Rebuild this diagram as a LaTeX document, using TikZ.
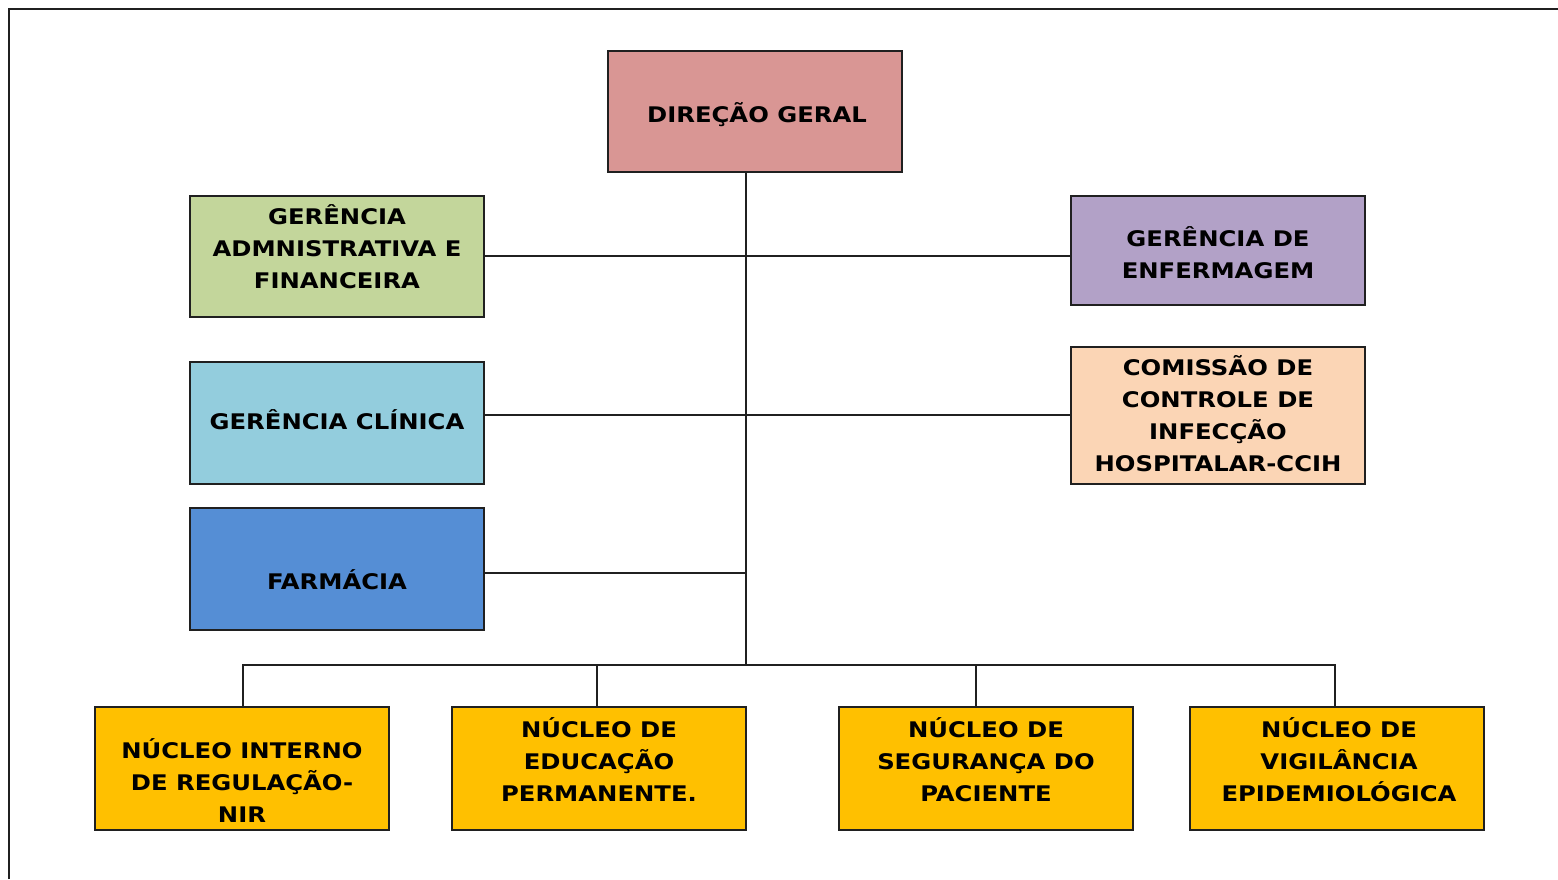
\documentclass[tikz,border=0pt]{standalone}
\usepackage{fontspec}
\setmainfont{DejaVu Sans}[BoldFeatures={FakeStretch=1.13}]
\definecolor{cDir}{HTML}{D99694}
\definecolor{cAdm}{HTML}{C3D69B}
\definecolor{cEnf}{HTML}{B2A1C7}
\definecolor{cCli}{HTML}{93CDDD}
\definecolor{cCci}{HTML}{FBD5B5}
\definecolor{cFar}{HTML}{558ED5}
\definecolor{cNuc}{HTML}{FFC000}
\definecolor{cLine}{HTML}{202020}
\begin{document}
\begin{tikzpicture}[x=1pt,y=-1pt,
  box/.style={draw=cLine,line width=1.4pt,inner sep=0pt,outer sep=0pt,minimum width=294pt},
  txt/.style={align=center,inner sep=0pt,font=\fontsize{21.5}{32}\selectfont\bfseries,text=black},
  conn/.style={draw=cLine,line width=1.5pt}]
\useasboundingbox (0,0) rectangle (1558,879);
\fill[white] (0,0) rectangle (1558,879);
\draw[line width=1.3pt,cLine] (9,879) -- (9,9) -- (1558,9);
% boxes
\node[box,fill=cDir,minimum height=121pt] (dg) at (755,111.5) {};
\node[box,fill=cAdm,minimum height=121pt] (adm) at (337,256.5) {};
\node[box,fill=cEnf,minimum height=109pt] (enf) at (1218,250.5) {};
\node[box,fill=cCli,minimum height=122pt] (cli) at (337,423) {};
\node[box,fill=cCci,minimum height=137pt] (cci) at (1218,415.5) {};
\node[box,fill=cFar,minimum height=122pt] (far) at (337,569) {};
\node[box,fill=cNuc,minimum height=123pt] (n1) at (242,768.5) {};
\node[box,fill=cNuc,minimum height=123pt] (n2) at (599,768.5) {};
\node[box,fill=cNuc,minimum height=123pt] (n3) at (986,768.5) {};
\node[box,fill=cNuc,minimum height=123pt] (n4) at (1337,768.5) {};
% texts
\node[txt] (dgt) at (757,115) {DIREÇÃO GERAL};
\node[txt] (admt) at (337,247) {GERÊNCIA\\ADMNISTRATIVA E\\FINANCEIRA};
\node[txt] (enft) at (1218,253) {GERÊNCIA DE\\ENFERMAGEM};
\node[txt] (clit) at (337,420) {GERÊNCIA CLÍNICA};
\node[txt] (ccit) at (1218,414) {COMISSÃO DE\\CONTROLE DE\\INFECÇÃO\\HOSPITALAR-CCIH};
\node[txt] (fart) at (337,580) {FARMÁCIA};
\node[txt] (n1t) at (242,781) {NÚCLEO INTERNO\\DE REGULAÇÃO-\\NIR};
\node[txt] (n2t) at (599,760) {NÚCLEO DE\\EDUCAÇÃO\\PERMANENTE.};
\node[txt] (n3t) at (986,760) {NÚCLEO DE\\SEGURANÇA DO\\PACIENTE};
\node[txt] (n4t) at (1339,760) {NÚCLEO DE\\VIGILÂNCIA\\EPIDEMIOLÓGICA};
% connectors
\coordinate (bus) at (746,665);
\coordinate (d3) at (976,665);
\coordinate (d4) at (1335,665);
\coordinate (d2) at (597,665);
\coordinate (d1) at (243,665);
\draw[conn] (dg.south -| bus) -- (bus);
\draw[conn] (adm.east |- 0,256) -- (enf.west |- 0,256);
\draw[conn] (cli.east |- 0,415) -- (cci.west |- 0,415);
\draw[conn] (far.east |- 0,573) -- (bus |- 0,573);
\draw[conn] (n1.north -| d1) -- (d1) -- (d4) -- (n4.north -| d4);
\draw[conn] (d2) -- (n2.north -| d2);
\draw[conn] (d3) -- (n3.north -| d3);
\end{tikzpicture}
\end{document}
